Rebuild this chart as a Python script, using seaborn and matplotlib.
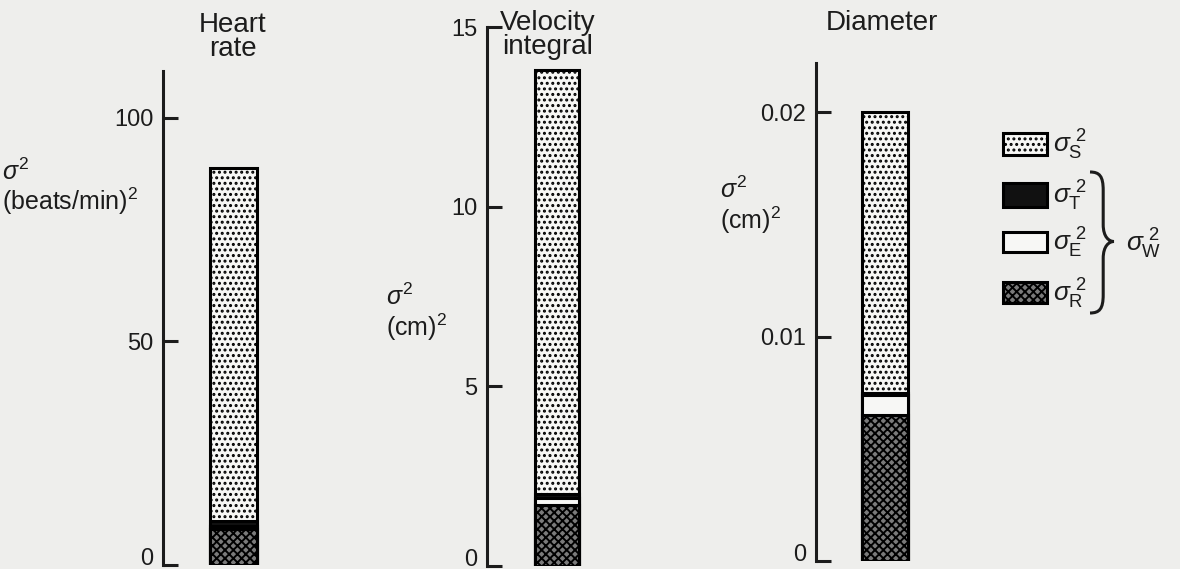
import numpy as np
import pandas as pd
import matplotlib
matplotlib.use('Agg')
import matplotlib.pyplot as plt
from matplotlib.patches import Rectangle, PathPatch
from matplotlib.path import Path
import seaborn as sns

panels = ['Heart\nrate', 'Velocity\nintegral', 'Diameter']
var_s = [79.0, 11.8, 0.0125]     # between subjects
var_t = [1.0, 0.1, 0.0001]       # time
var_e = [0.8, 0.2, 0.0009]       # echo
var_r = [8.0, 1.7, 0.0065]       # recording
y_units = ['(beats/min)$^2$', '(cm)$^2$', '(cm)$^2$']
y_ticks = [[0, 50, 100], [0, 5, 10, 15], [0, 0.01, 0.02]]
y_ticklabels = [['0', '50', '100'], ['0', '5', '10', '15'], ['0', '0.01', '0.02']]
y_max = [110.5, 15, 0.0222]
legend_labels = [r'$\sigma_{\mathrm{S}}^{\ 2}$', r'$\sigma_{\mathrm{T}}^{\ 2}$',
                 r'$\sigma_{\mathrm{E}}^{\ 2}$', r'$\sigma_{\mathrm{R}}^{\ 2}$']
brace_label = r'$\sigma_{\mathrm{W}}^{\ 2}$'

W, H = 1180, 569
INK = '#1c1c1c'
BG = '#eeeeec'

sns.set_style('ticks')
plt.rcParams['font.family'] = ['Liberation Sans', 'DejaVu Sans']
plt.rcParams['mathtext.fontset'] = 'custom'
plt.rcParams['mathtext.rm'] = 'Liberation Sans'
plt.rcParams['mathtext.it'] = 'Liberation Sans:italic'
plt.rcParams['hatch.linewidth'] = 1.4
plt.rcParams['text.color'] = INK

# (axis x, bar left, bar right, axis top, axis bottom) in pixels
layout = [(163, 210, 257, 71, 565),
          (487, 535, 579, 27, 566),
          (816, 862, 908, 63, 561)]

styles = [dict(color='#f7f7f5', hatch='...'),   # S stipple
          dict(color='#111111', hatch=None),    # T black
          dict(color='#f7f7f5', hatch=None),    # E white
          dict(color='#7a7a7a', hatch='xxxx')]  # R dark speckle

fig = plt.figure(figsize=(W / 100, H / 100), dpi=100, facecolor=BG)

for i in range(3):
    ax_x, bl, br, top, bot = layout[i]
    right = br + 18
    ax = fig.add_axes([ax_x / W, 1 - bot / H, (right - ax_x) / W, (bot - top) / H])
    ax.set_facecolor('none')

    # stacked bar drawn as cumulative totals, largest first
    layers = [var_s[i] + var_t[i] + var_e[i] + var_r[i],
              var_t[i] + var_e[i] + var_r[i],
              var_e[i] + var_r[i],
              var_r[i]]
    for val, st in zip(layers, styles):
        df = pd.DataFrame({'panel': [panels[i]], 'var': [val]})
        sns.barplot(data=df, x='panel', y='var', ax=ax, color=st['color'],
                    saturation=1, edgecolor='black', linewidth=2.2,
                    hatch=st['hatch'], width=0.8)

    k = (br - bl) / 0.8
    ax.set_xlim(-0.4 - (bl - ax_x) / k, 0.4 + (right - br) / k)
    ax.set_ylim(0, y_max[i])
    ax.set_yticks(y_ticks[i])
    ax.set_yticklabels(y_ticklabels[i], fontsize=17, color=INK)
    ax.get_yticklabels()[0].set_verticalalignment('baseline')
    ax.tick_params(axis='y', direction='in', length=11, width=2.2, pad=7, colors=INK)
    ax.set_xticks([])
    ax.set_xlabel('')
    ax.set_ylabel('')
    sns.despine(ax=ax, bottom=True)
    ax.spines['left'].set_linewidth(2.2)
    ax.spines['left'].set_color(INK)

# overlay in pixel coordinates for titles, labels, legend
ov = fig.add_axes([0, 0, 1, 1])
ov.set_xlim(0, W)
ov.set_ylim(H, 0)
ov.axis('off')

title_pos = [(233, 12), (548, 10), (882, 10)]
for (tx, ty), t in zip(title_pos, panels):
    ov.text(tx, ty, t, ha='center', va='top', fontsize=20, linespacing=0.9)

ylab_pos = [(2, 172, 201), (386, 297, 327), (720, 190, 220)]
for (lx, y1, y2), u in zip(ylab_pos, y_units):
    ov.text(lx, y1, r'$\sigma^2$', ha='left', va='center', fontsize=18)
    ov.text(lx, y2, u, ha='left', va='center', fontsize=18)

# legend boxes
boxes = [(133, 155), (183, 207), (232, 252), (282, 303)]
for (b0, b1), st, lab in zip(boxes, styles, legend_labels):
    ov.add_patch(Rectangle((1003, b0), 44, b1 - b0, facecolor=st['color'],
                           edgecolor='black', linewidth=2.2, hatch=st['hatch']))
    ov.text(1053, (b0 + b1) / 2 + 1, lab, ha='left', va='center', fontsize=19)

# brace grouping T, E, R
x0, y1, y2, w = 1090, 172, 313, 24
ym = (y1 + y2) / 2 - 1
xm = x0 + w * 0.55
h = y2 - y1
verts = [(x0, y1), (x0 + 0.4 * w, y1), (xm, y1 + 0.03 * h), (xm, y1 + 0.13 * h),
         (xm, ym - 0.12 * h),
         (xm, ym - 0.03 * h), (xm + 0.25 * w, ym), (x0 + w, ym),
         (xm + 0.25 * w, ym), (xm, ym + 0.03 * h), (xm, ym + 0.12 * h),
         (xm, y2 - 0.13 * h),
         (xm, y2 - 0.03 * h), (x0 + 0.4 * w, y2), (x0, y2)]
codes = [Path.MOVETO, Path.CURVE4, Path.CURVE4, Path.CURVE4,
         Path.LINETO,
         Path.CURVE4, Path.CURVE4, Path.CURVE4,
         Path.CURVE4, Path.CURVE4, Path.CURVE4,
         Path.LINETO,
         Path.CURVE4, Path.CURVE4, Path.CURVE4]
ov.add_patch(PathPatch(Path(verts, codes), facecolor='none', edgecolor=INK, linewidth=2.2))
ov.text(1126, ym + 2, brace_label, ha='left', va='center', fontsize=19)

fig.savefig('out.png', dpi=100, facecolor=BG)
